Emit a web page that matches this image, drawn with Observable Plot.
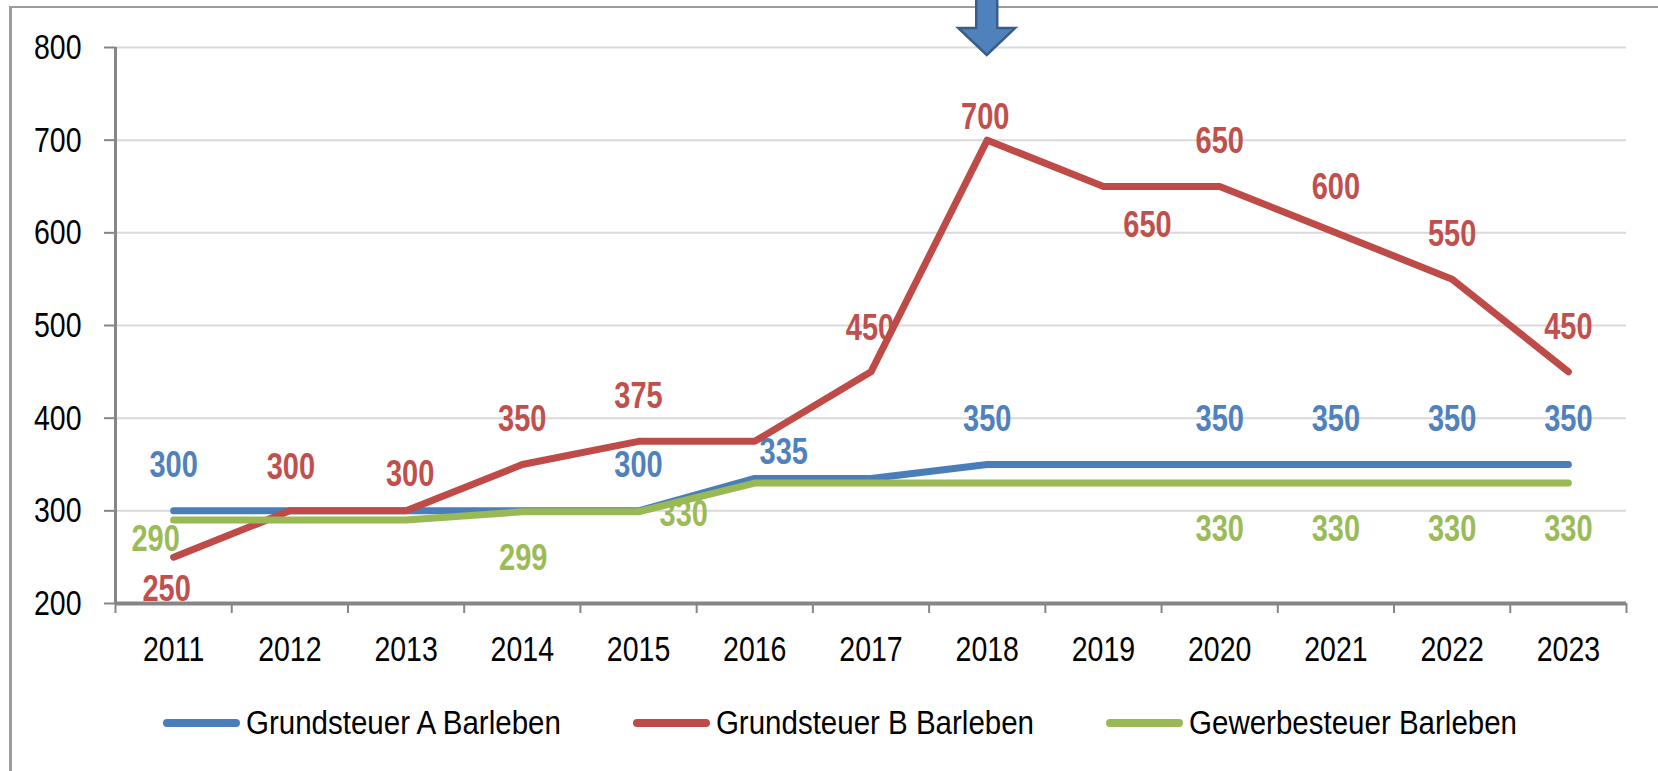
<!DOCTYPE html>
<html>
<head>
<meta charset="utf-8">
<script src="https://cdn.jsdelivr.net/npm/d3@7"></script>
<script src="https://cdn.jsdelivr.net/npm/@observablehq/plot@0.6"></script>
<style>
  html, body { margin: 0; padding: 0; background: #fff; width: 1658px; height: 771px; overflow: hidden; font-family: "Liberation Sans", Arial, sans-serif; }
  #wrap { position: relative; width: 1658px; height: 771px; overflow: hidden; }
  #frame { position: absolute; left: 9px; top: 6px; width: 1700px; height: 800px; border-left: 3px solid #9c9c9c; border-top: 2px solid #9c9c9c; box-sizing: border-box; }
  #chart { position: absolute; left: 0; top: 0; }
  #legend { position: absolute; left: 163px; top: 700px; height: 46px; display: flex; align-items: center; gap: 72px; }
  .item { display: flex; align-items: center; }
  .sw { width: 77px; height: 8px; border-radius: 4px; margin-right: 6px; }
  .lab { font-size: 29.5px; color: #000; display: inline-block; transform: scaleY(1.1); line-height: 1; white-space: nowrap; }
</style>
</head>
<body>
<div id="wrap">
  <div id="frame"></div>
  <div id="chart"></div>
  <div id="legend"></div>
</div>
<script>
// ---- data ----
const years = [2011, 2012, 2013, 2014, 2015, 2016, 2017, 2018, 2019, 2020, 2021, 2022, 2023];
const grundsteuerA = [300, 300, 300, 300, 300, 335, 335, 350, 350, 350, 350, 350, 350];
const grundsteuerB = [250, 300, 300, 350, 375, 375, 450, 700, 650, 650, 600, 550, 450];
const gewerbesteuer = [290, 290, 290, 299, 299, 330, 330, 330, 330, 330, 330, 330, 330];
const seriesNames = ["Grundsteuer A Barleben", "Grundsteuer B Barleben", "Gewerbesteuer Barleben"];
const lineColors = ["#4a7ebb", "#be4b48", "#98b954"];
const labelColors = ["#4f81bd", "#c0504d", "#9bbb59"];
const yTicks = [200, 300, 400, 500, 600, 700, 800];
// years whose value is written as a data label, per series
const labelYearsA = [2011, 2015, 2016, 2018, 2020, 2021, 2022, 2023];
const labelYearsB = [2011, 2012, 2013, 2014, 2015, 2017, 2018, 2019, 2020, 2021, 2022, 2023];
const labelYearsG = [2011, 2014, 2016, 2020, 2021, 2022, 2023];
const markedYear = 2018;

// ---- drawing ----
const seriesValues = [grundsteuerA, grundsteuerB, gewerbesteuer];
const labelYears = [labelYearsA, labelYearsB, labelYearsG];
const rows = [];
seriesNames.forEach((s, i) => seriesValues[i].forEach((v, j) => rows.push({series: s, year: years[j], value: v})));
const tickEdges = [...years.map(y => y - 0.5), years[years.length - 1] + 0.5];

// label placement (pixel offsets of label centre from the point)
const defaultOffset = [[0, -45], [0, -45], [0, 46]];
const specialOffset = {
  "0-2016": [29, -26],
  "1-2011": [-7, 32], "1-2012": [1, -43], "1-2013": [4, -36], "1-2017": [-1, -43],
  "1-2018": [-2, -23], "1-2019": [44, 39], "1-2023": [0, -44],
  "2-2011": [-18, 19], "2-2014": [1, 47], "2-2016": [-71, 31]
};
const labelMarks = [];
labelYears.forEach((ys, i) => ys.forEach(y => {
  const j = years.indexOf(y);
  const d = {year: y, value: seriesValues[i][j]};
  const [dx, dy] = specialOffset[`${i}-${y}`] || defaultOffset[i];
  labelMarks.push(Plot.text([d], {
    x: "year", y: "value", text: r => String(r.value), dx, dy,
    fill: labelColors[i], fontSize: 29, fontWeight: "bold", ariaLabel: "data-label"
  }));
}));

const plot = Plot.plot({
  width: 1658,
  height: 680,
  marginLeft: 115,
  marginRight: 32,
  marginTop: 47,
  marginBottom: 77,
  style: {background: "transparent", fontFamily: "'Liberation Sans', Arial, sans-serif", color: "#000"},
  x: {domain: [tickEdges[0], tickEdges[tickEdges.length - 1]]},
  y: {domain: [yTicks[0], yTicks[yTicks.length - 1]]},
  color: {domain: seriesNames, range: lineColors},
  marks: [
    Plot.gridY(yTicks.slice(1), {stroke: "#d9d9d9", strokeOpacity: 1, strokeWidth: 2}),
    ...labelMarks,
    Plot.line(rows, {x: "year", y: "value", z: "series", stroke: "series", strokeWidth: 7, strokeLinecap: "round", strokeLinejoin: "round"}),
    Plot.ruleX([tickEdges[0]], {stroke: "#868686", strokeWidth: 3}),
    Plot.ruleY([yTicks[0]], {stroke: "#868686", strokeWidth: 4}),
    Plot.axisY(yTicks, {anchor: "left", tickSize: 11, tickPadding: 23, fontSize: 28.5, stroke: "#868686", strokeWidth: 2, fill: "#000", label: null}),
    Plot.axisX(tickEdges, {anchor: "bottom", tickSize: 10, tickFormat: () => "", stroke: "#868686", strokeWidth: 2, label: null}),
    Plot.axisX(years, {anchor: "bottom", tickSize: 0, tickPadding: 32, fontSize: 28.5, tickFormat: d => String(d), fill: "#000", label: null})
  ]
});

// stretch the glyphs vertically like the reference's font (scale about each text's anchor)
plot.querySelectorAll("text").forEach(t => {
  const s = t.closest('g[aria-label="data-label"]') ? 1.12 : 1.25;
  const tr = t.getAttribute("transform") || "";
  t.setAttribute("transform", (tr + ` scale(1,${s})`).trim());
});

// marker arrow above the highlighted year
const ax = plot.scale("x").apply(markedYear);
d3.select(plot).append("path")
  .attr("d", `M${ax - 10.5},-3 L${ax + 10.5},-3 L${ax + 10.5},28 L${ax + 28.5},28 L${ax},55 L${ax - 28.5},28 L${ax - 10.5},28 Z`)
  .attr("fill", "#4f81bd").attr("stroke", "#385d8a").attr("stroke-width", 2.5).attr("stroke-linejoin", "miter");

document.getElementById("chart").appendChild(plot);

// legend
const legend = document.getElementById("legend");
seriesNames.forEach((s, i) => {
  const item = document.createElement("div");
  item.className = "item";
  item.innerHTML = `<span class="sw" style="background:${lineColors[i]}"></span><span class="lab">${s}</span>`;
  legend.appendChild(item);
});
</script>
</body>
</html>
